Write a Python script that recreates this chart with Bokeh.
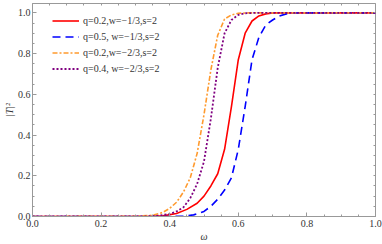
from bokeh.plotting import figure
from bokeh.models import (Range1d, FixedTicker, PrintfTickFormatter, LinearAxis,
                          Legend, LegendItem)
from bokeh.embed import file_html
from bokeh.resources import INLINE

# --- data ---
w_red = [0.0, 0.34, 0.38, 0.42, 0.45, 0.48, 0.50, 0.52, 0.54, 0.56, 0.58, 0.60,
         0.62, 0.64, 0.66, 0.68, 0.70, 1.0]
T_red = [0.0, 0.0, 0.003, 0.015, 0.035, 0.065, 0.10, 0.15, 0.21, 0.33, 0.54, 0.77,
         0.90, 0.96, 0.985, 0.995, 1.0, 1.0]

w_blue = [0.0, 0.40, 0.44, 0.47, 0.50, 0.52, 0.54, 0.56, 0.58, 0.60, 0.62, 0.64,
          0.66, 0.68, 0.70, 0.72, 0.75, 1.0]
T_blue = [0.0, 0.0, 0.002, 0.008, 0.025, 0.05, 0.085, 0.13, 0.19, 0.33, 0.54, 0.77,
          0.88, 0.94, 0.965, 0.985, 1.0, 1.0]

w_orange = [0.0, 0.30, 0.35, 0.38, 0.40, 0.42, 0.44, 0.46, 0.48, 0.50, 0.52, 0.54,
            0.56, 0.58, 0.60, 0.63, 1.0]
T_orange = [0.0, 0.001, 0.006, 0.02, 0.04, 0.07, 0.12, 0.19, 0.31, 0.50, 0.72, 0.89,
            0.97, 0.99, 0.998, 1.0, 1.0]

w_purple = [0.0, 0.32, 0.36, 0.40, 0.42, 0.44, 0.46, 0.48, 0.50, 0.52, 0.54, 0.56,
            0.58, 0.60, 0.62, 0.65, 1.0]
T_purple = [0.0, 0.0, 0.003, 0.012, 0.025, 0.045, 0.09, 0.16, 0.27, 0.48, 0.73, 0.90,
            0.965, 0.99, 0.998, 1.0, 1.0]

labels = ["q=0.2,w=\u22121/3,s=2", "q=0.5, w=\u22121/3,s=2",
          "q=0.2,w=\u22122/3,s=2", "q=0.4, w=\u22122/3,s=2"]
x_title = "\u03c9"
y_title = "|T|\u00b2"

x_ticks = [0.0, 0.2, 0.4, 0.6, 0.8, 1.0]
y_ticks = [0.0, 0.2, 0.4, 0.6, 0.8, 1.0]
minor = [i * 0.05 for i in range(21)]

FONT = "Liberation Serif"
AX = "#999999"
TXT = "#333333"

p = figure(width=382, height=244, output_backend="svg", toolbar_location=None,
           x_range=Range1d(0, 1.0), y_range=Range1d(0, 1.046),
           min_border_left=29, min_border_right=7, min_border_top=3, min_border_bottom=28,
           x_axis_label=x_title, y_axis_label=y_title)
p.xgrid.visible = False
p.ygrid.visible = False
p.outline_line_color = AX
p.background_fill_color = "white"
p.border_fill_color = "white"

def style_axis(ax, ticks):
    ax.ticker = FixedTicker(ticks=ticks, minor_ticks=minor)
    ax.formatter = PrintfTickFormatter(format="%.1f")
    ax.axis_line_color = AX
    ax.major_tick_line_color = AX
    ax.minor_tick_line_color = AX
    ax.major_tick_in = 4
    ax.major_tick_out = 0
    ax.minor_tick_in = 2
    ax.minor_tick_out = 0
    ax.major_label_text_font = FONT
    ax.major_label_text_font_size = "10px"
    ax.major_label_text_color = TXT
    ax.axis_label_text_font = FONT
    ax.axis_label_text_font_size = "10px"
    ax.axis_label_text_font_style = "italic"
    ax.axis_label_text_color = TXT

style_axis(p.xaxis[0], x_ticks)
style_axis(p.yaxis[0], y_ticks)
p.xaxis[0].major_label_standoff = 3
p.xaxis[0].axis_label_standoff = 1
p.yaxis[0].major_label_standoff = 2
p.yaxis[0].axis_label_standoff = 0

def frame_axis(tick_pos, length):
    ax = LinearAxis(ticker=FixedTicker(ticks=[], minor_ticks=tick_pos))
    ax.axis_line_color = None
    ax.major_tick_line_color = None
    ax.minor_tick_line_color = AX
    ax.minor_tick_in = length
    ax.minor_tick_out = 0
    ax.major_label_standoff = 0
    return ax

p.add_layout(frame_axis(minor, 2), "above")
p.add_layout(frame_axis(minor, 2), "right")

r1 = p.line(w_red, T_red, line_color="#ff0000", line_width=1.6)
r2 = p.line(w_blue, T_blue, line_color="#0000ff", line_width=1.6, line_dash="8 5")
r3 = p.line(w_orange, T_orange, line_color="#ff9a2e", line_width=1.6, line_dash="5 2 2 2")
r4 = p.line(w_purple, T_purple, line_color="#800080", line_width=1.8, line_dash="2 2")

legend = Legend(items=[LegendItem(label=labels[0], renderers=[r1]),
                       LegendItem(label=labels[1], renderers=[r2]),
                       LegendItem(label=labels[2], renderers=[r3]),
                       LegendItem(label=labels[3], renderers=[r4])],
                location=(20, 141))
legend.border_line_color = None
legend.background_fill_alpha = 0
legend.label_text_font = FONT
legend.label_text_font_size = "10px"
legend.label_text_color = TXT
legend.glyph_width = 27
legend.glyph_height = 13
legend.label_height = 13
legend.spacing = 3
legend.padding = 0
legend.margin = 0
legend.label_standoff = 4
p.add_layout(legend, "center")

open("out.html", "w").write(file_html(p, INLINE))
